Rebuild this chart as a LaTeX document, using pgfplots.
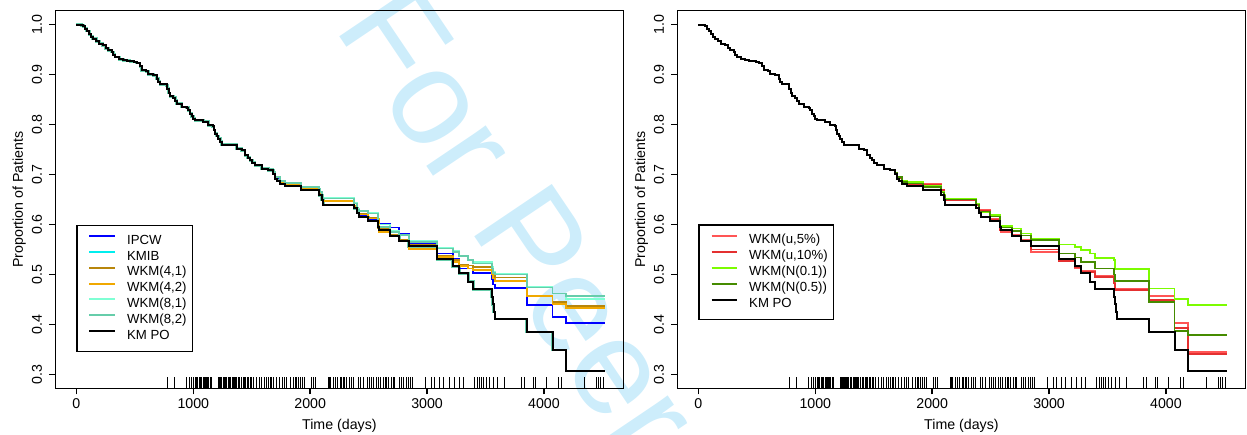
\documentclass[border=0pt]{standalone}
\usepackage{pgfplots}
\pgfplotsset{compat=1.18}
\usepackage{pgfplotstable}
\usepackage{fontspec}
\setmainfont{Liberation Sans}

\definecolor{wm}{RGB}{205,237,251}
\definecolor{cipcw}{RGB}{0,0,255}
\definecolor{ckmib}{RGB}{0,238,238}
\definecolor{cwkmfa}{RGB}{184,134,11}
\definecolor{cwkmfb}{RGB}{240,168,0}
\definecolor{cwkmea}{RGB}{127,255,212}
\definecolor{cwkmeb}{RGB}{102,205,170}
\definecolor{cua}{RGB}{255,85,85}
\definecolor{cub}{RGB}{228,48,48}
\definecolor{cna}{RGB}{124,252,0}
\definecolor{cnb}{RGB}{69,139,0}

\pgfplotstableread{
t s
0 1.0
45 0.9986
59 0.9966
74 0.9919
88 0.9873
111 0.9806
125 0.9760
139 0.9719
170 0.9670
196 0.9619
225 0.9586
250 0.9530
273 0.9486
302 0.9453
315 0.9400
330 0.9353
367 0.9306
401 0.9286
430 0.9276
458 0.9266
490 0.9250
516 0.9233
544 0.9166
558 0.9086
595 0.9066
615 0.9006
658 0.8986
687 0.8919
700 0.8860
715 0.8806
772 0.8786
778 0.8719
789 0.8633
801 0.8566
829 0.8539
845 0.8480
858 0.8419
900 0.8353
943 0.8339
957 0.8286
972 0.8219
986 0.8166
1000 0.8120
1015 0.8086
1086 0.8060
1129 0.7986
1166 0.7966
1178 0.7890
1186 0.7819
1200 0.7770
1214 0.7719
1230 0.7660
1243 0.7599
1371 0.7519
1414 0.7486
1442 0.7386
1465 0.7336
1485 0.7286
1505 0.7236
1528 0.7186
1585 0.7119
1642 0.7086
1685 0.7019
1699 0.6919
1720 0.6870
1742 0.6819
1784 0.6770
1921 0.6700
2078 0.6586
2098 0.6499
2112 0.6390
2375 0.6320
2403 0.6230
2418 0.6150
2497 0.6070
2583 0.5950
2590 0.5886
2683 0.5770
2763 0.5673
2843 0.5560
3085 0.5300
3219 0.5160
3276 0.5020
3353 0.4853
3396 0.4700
3553 0.4550
3562 0.4400
3570 0.4250
3580 0.4106
3852 0.3846
4074 0.3486
4188 0.3066
4522 0.3066
}\kmpo

\pgfplotstableread{
t s
1642 0.7090
1685 0.7030
1699 0.6935
1742 0.6840
1784 0.6795
1921 0.6725
2078 0.6610
2098 0.6540
2112 0.6460
2375 0.6370
2403 0.6250
2418 0.6180
2497 0.6100
2590 0.6006
2683 0.5940
2763 0.5806
2843 0.5620
3085 0.5420
3219 0.5320
3276 0.5120
3396 0.5030
3553 0.4900
3562 0.4800
3580 0.4733
3852 0.4380
4074 0.4150
4188 0.4020
4522 0.4020
}\ipcw

\pgfplotstableread{
t s
1642 0.7095
1685 0.7035
1699 0.6940
1742 0.6845
1784 0.6800
1921 0.6730
2078 0.6620
2098 0.6550
2112 0.6480
2375 0.6380
2403 0.6250
2418 0.6210
2497 0.6140
2583 0.5920
2683 0.5800
2763 0.5700
2843 0.5586
3085 0.5380
3219 0.5290
3276 0.5200
3353 0.5180
3396 0.5150
3553 0.5050
3562 0.4980
3580 0.4940
3852 0.4570
4074 0.4453
4188 0.4366
4522 0.4366
}\wkmfa

\pgfplotstableread{
t s
1642 0.7095
1685 0.7035
1699 0.6940
1742 0.6845
1784 0.6800
1921 0.6730
2078 0.6615
2098 0.6545
2112 0.6470
2375 0.6370
2403 0.6240
2418 0.6200
2497 0.6120
2590 0.5850
2683 0.5760
2763 0.5660
2843 0.5510
3085 0.5350
3219 0.5250
3276 0.5170
3353 0.5120
3396 0.5086
3553 0.5000
3562 0.4920
3580 0.4866
3852 0.4570
4074 0.4406
4188 0.4320
4522 0.4320
}\wkmfb

\pgfplotstableread{
t s
1642 0.7110
1685 0.7050
1699 0.6960
1742 0.6870
1784 0.6830
1921 0.6760
2078 0.6660
2098 0.6590
2112 0.6530
2375 0.6430
2403 0.6310
2418 0.6280
2497 0.6230
2583 0.6000
2683 0.5870
2763 0.5800
2843 0.5670
3085 0.5530
3219 0.5470
3276 0.5380
3353 0.5300
3396 0.5250
3553 0.5150
3562 0.5050
3580 0.5020
3852 0.4750
4074 0.4620
4188 0.4500
4522 0.4500
}\wkmea

\pgfplotstableread{
t s
1642 0.7105
1685 0.7045
1699 0.6955
1742 0.6865
1784 0.6825
1921 0.6755
2078 0.6655
2098 0.6585
2112 0.6520
2375 0.6420
2403 0.6300
2418 0.6270
2497 0.6220
2583 0.5950
2683 0.5850
2763 0.5786
2843 0.5653
3085 0.5520
3219 0.5450
3276 0.5366
3353 0.5286
3396 0.5220
3553 0.5120
3562 0.5030
3580 0.5000
3852 0.4740
4074 0.4620
4188 0.4566
4522 0.4566
}\wkmeb

\pgfplotstableread{
t s
1642 0.7090
1685 0.7030
1699 0.6940
1742 0.6840
1784 0.6810
2078 0.6700
2098 0.6600
2112 0.6500
2375 0.6400
2403 0.6286
2497 0.6120
2583 0.5900
2590 0.5850
2683 0.5786
2763 0.5693
2843 0.5450
3085 0.5280
3219 0.5120
3276 0.5066
3396 0.4966
3553 0.4850
3562 0.4720
3852 0.4566
4074 0.4020
4188 0.3453
4522 0.3453
}\ua

\pgfplotstableread{
t s
1642 0.7088
1685 0.7028
1699 0.6935
1742 0.6835
1784 0.6800
2078 0.6690
2098 0.6590
2112 0.6490
2375 0.6390
2403 0.6270
2497 0.6100
2583 0.5880
2683 0.5770
2763 0.5680
2843 0.5500
3085 0.5270
3219 0.5150
3276 0.5050
3396 0.4950
3553 0.4820
3562 0.4690
3852 0.4490
4074 0.3933
4188 0.3406
4522 0.3406
}\ub

\pgfplotstableread{
t s
1642 0.7100
1685 0.7040
1699 0.6950
1742 0.6870
1784 0.6853
1921 0.6766
2078 0.6660
2098 0.6590
2112 0.6520
2375 0.6410
2403 0.6253
2497 0.6186
2583 0.5970
2683 0.5920
2763 0.5820
2843 0.5710
3085 0.5600
3219 0.5550
3276 0.5486
3353 0.5420
3396 0.5330
3553 0.5286
3562 0.5106
3852 0.4720
4074 0.4500
4188 0.4386
4522 0.4386
}\na

\pgfplotstableread{
t s
1642 0.7095
1685 0.7035
1699 0.6945
1742 0.6850
1784 0.6820
1921 0.6750
2078 0.6640
2098 0.6570
2112 0.6500
2375 0.6400
2403 0.6260
2497 0.6160
2583 0.5940
2683 0.5870
2763 0.5780
2843 0.5686
3085 0.5420
3219 0.5340
3276 0.5250
3396 0.5120
3553 0.5000
3562 0.4866
3852 0.4440
4074 0.3870
4188 0.3786
4522 0.3786
}\nb

\pgfplotstableread{
t s
778 0.272
835 0.272
943 0.272
966 0.272
986 0.272
1000 0.272
1015 0.272
1023 0.272
1034 0.272
1049 0.272
1060 0.272
1072 0.272
1086 0.272
1097 0.272
1106 0.272
1114 0.272
1123 0.272
1131 0.272
1143 0.272
1151 0.272
1217 0.272
1223 0.272
1228 0.272
1237 0.272
1245 0.272
1257 0.272
1265 0.272
1277 0.272
1285 0.272
1297 0.272
1308 0.272
1322 0.272
1331 0.272
1342 0.272
1354 0.272
1359 0.272
1371 0.272
1385 0.272
1399 0.272
1414 0.272
1425 0.272
1436 0.272
1448 0.272
1462 0.272
1471 0.272
1485 0.272
1499 0.272
1513 0.272
1542 0.272
1565 0.272
1585 0.272
1605 0.272
1622 0.272
1642 0.272
1656 0.272
1670 0.272
1684 0.272
1713 0.272
1733 0.272
1759 0.272
1776 0.272
1799 0.272
1833 0.272
1856 0.272
1870 0.272
1884 0.272
1898 0.272
1913 0.272
1935 0.272
1955 0.272
2012 0.272
2032 0.272
2049 0.272
2155 0.272
2163 0.272
2175 0.272
2198 0.272
2212 0.272
2220 0.272
2235 0.272
2255 0.272
2269 0.272
2283 0.272
2297 0.272
2312 0.272
2340 0.272
2354 0.272
2369 0.272
2411 0.272
2434 0.272
2454 0.272
2489 0.272
2511 0.272
2528 0.272
2545 0.272
2568 0.272
2583 0.272
2597 0.272
2625 0.272
2640 0.272
2654 0.272
2668 0.272
2697 0.272
2711 0.272
2725 0.272
2762 0.272
2782 0.272
2802 0.272
2825 0.272
2839 0.272
2859 0.272
2876 0.272
2982 0.272
3039 0.272
3067 0.272
3104 0.272
3138 0.272
3195 0.272
3238 0.272
3275 0.272
3310 0.272
3409 0.272
3429 0.272
3446 0.272
3466 0.272
3486 0.272
3509 0.272
3537 0.272
3566 0.272
3600 0.272
3666 0.272
3808 0.272
3837 0.272
3908 0.272
3931 0.272
4022 0.272
4122 0.272
4151 0.272
4350 0.272
4450 0.272
4464 0.272
4484 0.272
4507 0.272
}\rug

\pgfplotsset{
  legend image code/.code={\path (0pt,0pt); \draw[#1, line width=1pt] (2.75pt,2.4pt) -- (15.6pt,2.4pt);},
}
\pgfplotsset{
  panel/.style={
    scale only axis, width=284pt, height=188.8pt,
    xmin=-180, xmax=4680, ymin=0.272, ymax=1.028,
    xtick={0,1000,2000,3000,4000},
    ytick={0.3,0.4,0.5,0.6,0.7,0.8,0.9,1.0},
    tick align=outside, tick pos=left, major tick length=3pt,
    axis line style={line width=0.7pt},
    every tick/.style={line width=0.7pt, black},
    /pgf/number format/assume math mode=true,
    x tick label style={/pgf/number format/1000 sep={}, anchor=north, inner sep=0pt, yshift=-1.85pt},
    y tick label style={/pgf/number format/.cd, fixed, fixed zerofill, precision=1, /tikz/.cd, xshift=-3.45pt, rotate=90, anchor=south, inner sep=0pt},
    tick label style={font=\fontsize{7.1}{8}\selectfont},
    xlabel={Time (days)}, ylabel={Proportion of Patients},
    every axis x label/.style={at={(axis description cs:0.5,0)}, anchor=base, yshift=-20.35pt},
    every axis y label/.style={at={(axis description cs:0,0.5)}, xshift=-16.2pt, rotate=90, anchor=base},
    label style={font=\fontsize{7.1}{8}\selectfont},
    legend cell align=left,
    legend style={anchor=north west, draw=black, line width=0.6pt,
      font=\fontsize{6.6}{7}\selectfont, inner xsep=3pt, inner ysep=4.6pt,
      nodes={inner sep=0pt, text height=4.8pt, text depth=1.4pt},
      cells={anchor=west},
      /tikz/every odd column/.append style={column sep=5.5pt}},
    const plot, no marks,
  },
  rugstyle/.style={draw=none, mark=none, forget plot,
    error bars/.cd, y dir=plus, y fixed=0.022, error mark=none,
    error bar style={line width=0.45pt, black}},
}

\begin{document}
\begin{tikzpicture}
\useasboundingbox (0,0) rectangle (623.5pt,217pt);
\node[rotate=-56, anchor=base west, inner sep=0pt, text=wm, font=\fontsize{68}{68}\selectfont] at (166.5pt,203.5pt) {For Peer Review};

\begin{axis}[panel, at={(27.7pt,22.85pt)}, anchor=south west,
  legend style={at={(0.0368,0.4325)}, row sep=1.7pt}]
\addplot[color=cwkmeb, line width=1.35pt, forget plot] table {\kmpo};
\addplot[color=cipcw, line width=0.9pt] table {\ipcw};
\addlegendentry{IPCW}
\addplot[color=ckmib, line width=0.9pt] table {\kmpo};
\addlegendentry{KMIB}
\addplot[color=cwkmfa, line width=0.9pt] table {\wkmfa};
\addlegendentry{WKM(4,1)}
\addplot[color=cwkmfb, line width=0.9pt] table {\wkmfb};
\addlegendentry{WKM(4,2)}
\addplot[color=cwkmea, line width=0.9pt] table {\wkmea};
\addlegendentry{WKM(8,1)}
\addplot[color=cwkmeb, line width=0.9pt] table {\wkmeb};
\addlegendentry{WKM(8,2)}
\addplot[color=black, line width=1.0pt] table {\kmpo};
\addlegendentry{KM PO}
\addplot[rugstyle] table {\rug};
\end{axis}

\begin{axis}[panel, at={(338.7pt,22.85pt)}, anchor=south west,
  legend style={at={(0.037,0.4343)}, row sep=1.8pt}]
\addplot[color=cua, line width=0.9pt] table {\ua};
\addlegendentry{WKM(u,5\%)}
\addplot[color=cub, line width=0.9pt] table {\ub};
\addlegendentry{WKM(u,10\%)}
\addplot[color=cna, line width=0.9pt] table {\na};
\addlegendentry{WKM(N(0.1))}
\addplot[color=cnb, line width=0.9pt] table {\nb};
\addlegendentry{WKM(N(0.5))}
\addplot[color=black, line width=1.0pt] table {\kmpo};
\addlegendentry{KM PO}
\addplot[rugstyle] table {\rug};
\end{axis}
\end{tikzpicture}
\end{document}
